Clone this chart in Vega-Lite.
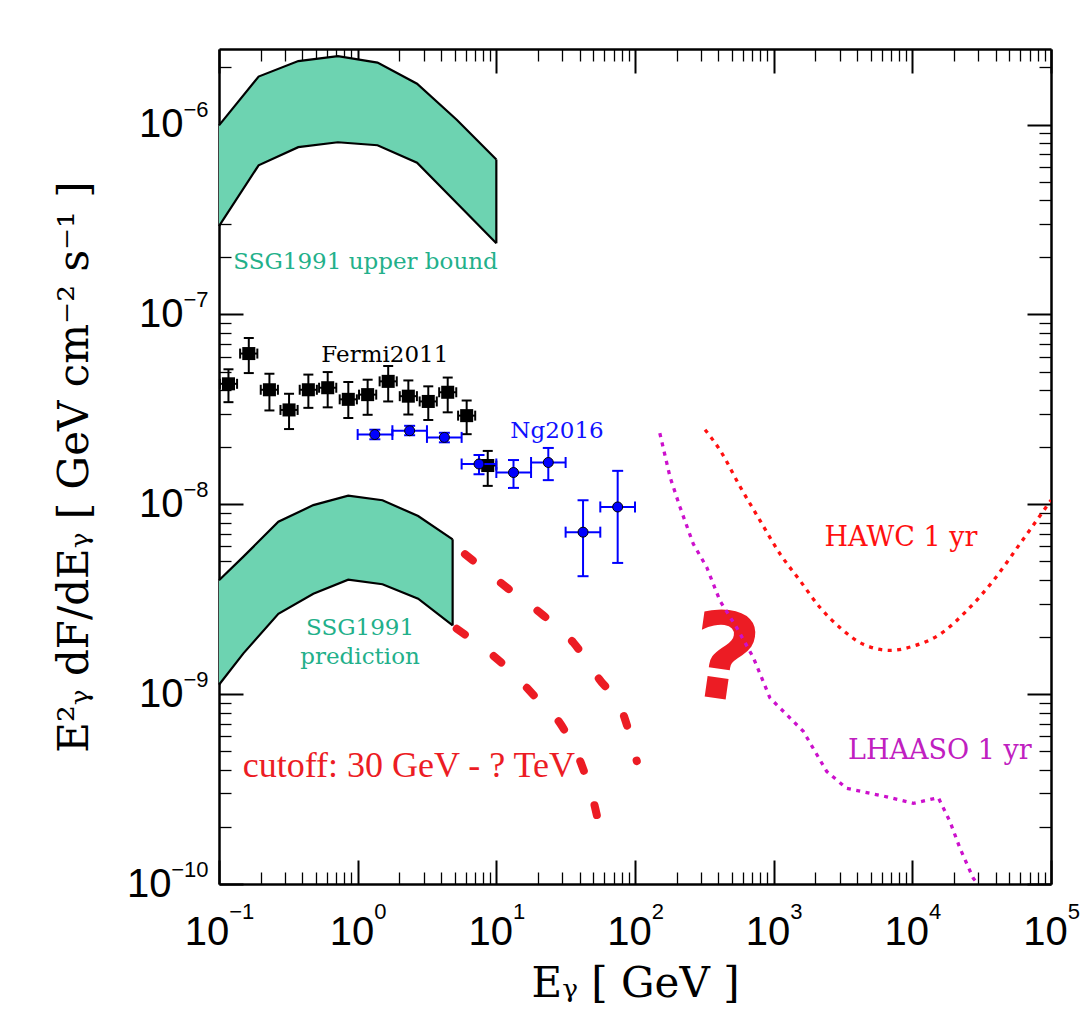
{
  "$schema": "https://vega.github.io/schema/vega-lite/v6.json",
  "width": 832,
  "height": 835,
  "autosize": "none",
  "padding": {"left": 219, "top": 49, "right": 40, "bottom": 144},
  "background": "white",
  "config": {
    "view": {"stroke": null},
    "axis": {
      "grid": false,
      "labelFont": "Liberation Sans",
      "labelFontSize": 40,
      "labelColor": "black",
      "labelOverlap": false,
      "labelFlush": false,
      "labelBound": false,
      "titleFont": "DejaVu Serif",
      "titleFontSize": 42,
      "titleFontWeight": "normal",
      "titleColor": "black",
      "domainColor": "black",
      "tickColor": "black",
      "zindex": 1
    }
  },
  "datasets": {
    "bandU": [
      {"x": 0.1, "hi": 9.9e-7, "lo": 2.92e-7},
      {"x": 0.193, "hi": 1.79e-6, "lo": 6.1e-7},
      {"x": 0.373, "hi": 2.16e-6, "lo": 7.6e-7},
      {"x": 0.72, "hi": 2.29e-6, "lo": 8.07e-7},
      {"x": 1.39, "hi": 2.12e-6, "lo": 7.78e-7},
      {"x": 2.68, "hi": 1.64e-6, "lo": 6.3e-7},
      {"x": 5.18, "hi": 1.06e-6, "lo": 3.86e-7},
      {"x": 10, "hi": 6.55e-7, "lo": 2.37e-7}
    ],
    "bandP": [
      {"x": 0.1, "hi": 3.98e-9, "lo": 1.12e-9},
      {"x": 0.15, "hi": 5.3e-9, "lo": 1.64e-9},
      {"x": 0.268, "hi": 8.09e-9, "lo": 2.65e-9},
      {"x": 0.479, "hi": 9.9e-9, "lo": 3.38e-9},
      {"x": 0.855, "hi": 1.11e-8, "lo": 4.01e-9},
      {"x": 1.51, "hi": 1.05e-8, "lo": 3.79e-9},
      {"x": 2.73, "hi": 8.67e-9, "lo": 3.18e-9},
      {"x": 4.84, "hi": 6.54e-9, "lo": 2.3e-9}
    ],
    "cutoff": [
      {"curve": "A", "x": 5.18, "y": 2.21e-9},
      {"curve": "A", "x": 11.9, "y": 1.38e-9},
      {"curve": "A", "x": 18.8, "y": 9.8e-10},
      {"curve": "A", "x": 29.9, "y": 6.74e-10},
      {"curve": "A", "x": 42.0, "y": 4.09e-10},
      {"curve": "A", "x": 50.6, "y": 2.67e-10},
      {"curve": "A", "x": 55.0, "y": 2.05e-10},
      {"curve": "B", "x": 5.94, "y": 5.46e-9},
      {"curve": "B", "x": 12.2, "y": 3.59e-9},
      {"curve": "B", "x": 21.8, "y": 2.6e-9},
      {"curve": "B", "x": 35.9, "y": 1.87e-9},
      {"curve": "B", "x": 55.2, "y": 1.2e-9},
      {"curve": "B", "x": 81.5, "y": 8.0e-10},
      {"curve": "B", "x": 103, "y": 4.44e-10}
    ],
    "hawc": [
      {"x": 320, "y": 2.47e-8},
      {"x": 410, "y": 1.93e-8},
      {"x": 572, "y": 1.24e-8},
      {"x": 796, "y": 8.23e-9},
      {"x": 1111, "y": 5.48e-9},
      {"x": 1549, "y": 3.96e-9},
      {"x": 2160, "y": 2.86e-9},
      {"x": 3010, "y": 2.24e-9},
      {"x": 4430, "y": 1.83e-9},
      {"x": 6920, "y": 1.7e-9},
      {"x": 10170, "y": 1.79e-9},
      {"x": 15850, "y": 2.07e-9},
      {"x": 24660, "y": 2.75e-9},
      {"x": 38370, "y": 3.96e-9},
      {"x": 59700, "y": 6.19e-9},
      {"x": 100000, "y": 1.05e-8}
    ],
    "lhaaso": [
      {"x": 151, "y": 2.37e-8},
      {"x": 179, "y": 1.39e-8},
      {"x": 211, "y": 9.68e-9},
      {"x": 263, "y": 6.19e-9},
      {"x": 329, "y": 4.66e-9},
      {"x": 410, "y": 3.1e-9},
      {"x": 541, "y": 2.24e-9},
      {"x": 713, "y": 1.56e-9},
      {"x": 940, "y": 9.55e-10},
      {"x": 1636, "y": 6.37e-10},
      {"x": 2410, "y": 3.92e-10},
      {"x": 3360, "y": 3.19e-10},
      {"x": 6530, "y": 2.88e-10},
      {"x": 10160, "y": 2.66e-10},
      {"x": 15390, "y": 2.85e-10},
      {"x": 18700, "y": 2.13e-10},
      {"x": 22080, "y": 1.54e-10},
      {"x": 27540, "y": 1.07e-10},
      {"x": 29730, "y": 1.0e-10}
    ],
    "fermi": [
      {"x": 0.117, "y": 4.31e-8, "ylo": 3.45e-8, "yhi": 5.14e-8, "xlo": 0.1015, "xhi": 0.135},
      {"x": 0.164, "y": 6.22e-8, "ylo": 4.91e-8, "yhi": 7.51e-8, "xlo": 0.142, "xhi": 0.189},
      {"x": 0.231, "y": 4.01e-8, "ylo": 3.12e-8, "yhi": 4.87e-8, "xlo": 0.2, "xhi": 0.266},
      {"x": 0.32, "y": 3.14e-8, "ylo": 2.49e-8, "yhi": 3.82e-8, "xlo": 0.2775, "xhi": 0.369},
      {"x": 0.441, "y": 4.01e-8, "ylo": 3.22e-8, "yhi": 4.82e-8, "xlo": 0.382, "xhi": 0.508},
      {"x": 0.608, "y": 4.11e-8, "ylo": 3.24e-8, "yhi": 4.97e-8, "xlo": 0.527, "xhi": 0.701},
      {"x": 0.856, "y": 3.57e-8, "ylo": 2.85e-8, "yhi": 4.4e-8, "xlo": 0.742, "xhi": 0.987},
      {"x": 1.18, "y": 3.78e-8, "ylo": 2.96e-8, "yhi": 4.53e-8, "xlo": 1.023, "xhi": 1.361},
      {"x": 1.66, "y": 4.44e-8, "ylo": 3.48e-8, "yhi": 5.35e-8, "xlo": 1.44, "xhi": 1.914},
      {"x": 2.32, "y": 3.71e-8, "ylo": 2.97e-8, "yhi": 4.49e-8, "xlo": 2.012, "xhi": 2.675},
      {"x": 3.23, "y": 3.48e-8, "ylo": 2.78e-8, "yhi": 4.18e-8, "xlo": 2.8, "xhi": 3.72},
      {"x": 4.46, "y": 3.89e-8, "ylo": 3.05e-8, "yhi": 4.65e-8, "xlo": 3.87, "xhi": 5.14},
      {"x": 6.11, "y": 2.93e-8, "ylo": 2.34e-8, "yhi": 3.52e-8, "xlo": 5.3, "xhi": 7.04},
      {"x": 8.67, "y": 1.6e-8, "ylo": 1.25e-8, "yhi": 1.91e-8, "xlo": 7.52, "xhi": 10.0}
    ],
    "ng": [
      {"x": 1.33, "y": 2.33e-8, "ylo": 2.2e-8, "yhi": 2.47e-8, "xlo": 1.0, "xhi": 1.78},
      {"x": 2.37, "y": 2.44e-8, "ylo": 2.31e-8, "yhi": 2.59e-8, "xlo": 1.78, "xhi": 3.16},
      {"x": 4.22, "y": 2.25e-8, "ylo": 2.12e-8, "yhi": 2.38e-8, "xlo": 3.16, "xhi": 5.62},
      {"x": 7.5, "y": 1.63e-8, "ylo": 1.44e-8, "yhi": 1.82e-8, "xlo": 5.62, "xhi": 10},
      {"x": 13.3, "y": 1.47e-8, "ylo": 1.22e-8, "yhi": 1.71e-8, "xlo": 10, "xhi": 17.8},
      {"x": 23.7, "y": 1.66e-8, "ylo": 1.34e-8, "yhi": 1.98e-8, "xlo": 17.8, "xhi": 31.6},
      {"x": 42.2, "y": 7.13e-9, "ylo": 4.18e-9, "yhi": 1.05e-8, "xlo": 31.6, "xhi": 56.2},
      {"x": 75, "y": 9.68e-9, "ylo": 4.91e-9, "yhi": 1.5e-8, "xlo": 56.2, "xhi": 100}
    ],
    "labels": [
      {"text": "SSG1991 upper bound", "x": 1.14, "y": 1.88e-7, "kind": "green"},
      {"text": "Fermi2011", "x": 1.57, "y": 6.1e-8, "kind": "black"},
      {"text": "Ng2016", "x": 27.4, "y": 2.44e-8, "kind": "blue"},
      {"text": "SSG1991", "x": 1.04, "y": 2.22e-9, "kind": "green"},
      {"text": "prediction", "x": 1.04, "y": 1.56e-9, "kind": "green"}
    ],
    "detectors": [
      {"text": "HAWC 1 yr", "x": 8280, "y": 6.68e-9, "kind": "red"},
      {"text": "LHAASO 1 yr", "x": 15800, "y": 4.99e-10, "kind": "magenta"}
    ],
    "notes": [
      {"text": "cutoff: 30 GeV - ? TeV", "x": 2.34, "y": 4.18e-10}
    ],
    "qmark": [
      {"text": "?", "x": 438, "y": 1.46e-9}
    ]
  },
  "resolve": {"axis": {"x": "independent", "y": "independent"}},
  "layer": [
    {
      "data": {"name": "bandU"},
      "mark": {"type": "area", "color": "#6dd3b1", "opacity": 1},
      "encoding": {
        "x": {"field": "x", "type": "quantitative", "scale": {"type": "log", "domain": [0.1, 100000], "nice": false},
          "axis": {"orient": "bottom", "values": [0.1, 1, 10, 100, 1000, 10000, 100000], "ticks": false, "labelPadding": 28,
            "labelExpr": "'10'", "labelAlign": "right", "labelBaseline": "top",
            "labelOffset": {"condition": {"test": "datum.value < 0.5", "value": 9.75}, "value": 16.2},
            "domain": true, "domainWidth": 2.5, "title": "Eᵧ  [ GeV ]", "titleBaseline": "alphabetic", "titleY": 112}},
        "y": {"field": "hi", "type": "quantitative", "scale": {"type": "log", "domain": [1e-10, 2.5e-6], "nice": false},
          "axis": {"orient": "left", "values": [1e-10, 1e-9, 1e-8, 1e-7, 1e-6], "ticks": false,
            "labelPadding": {"condition": {"test": "datum.value < 5e-10", "value": 48}, "value": 36},
            "labelExpr": "'10'", "labelAlign": "right", "labelBaseline": "middle",
            "domain": true, "domainWidth": 2.5, "title": "E²ᵧ dF/dEᵧ  [ GeV cm⁻² s⁻¹ ]", "titlePadding": 30}},
        "y2": {"field": "lo"}
      }
    },
    {
      "data": {"name": "bandP"},
      "mark": {"type": "area", "color": "#6dd3b1", "opacity": 1},
      "encoding": {
        "x": {"field": "x", "type": "quantitative", "scale": {"type": "log", "domain": [0.1, 100000], "nice": false},
          "axis": {"orient": "bottom", "values": [0.1, 1, 10, 100, 1000, 10000, 100000], "labels": false, "domain": false, "tickSize": -24, "tickWidth": 2, "title": null}},
        "y": {"field": "hi", "type": "quantitative", "scale": {"type": "log", "domain": [1e-10, 2.5e-6], "nice": false},
          "axis": {"orient": "left", "values": [1e-10, 1e-9, 1e-8, 1e-7, 1e-6], "labels": false, "domain": false, "tickSize": -24, "tickWidth": 2, "title": null}},
        "y2": {"field": "lo"}
      }
    },
    {
      "data": {"name": "bandU"},
      "mark": {"type": "line", "color": "black", "strokeWidth": 2.2},
      "encoding": {
        "x": {"field": "x", "type": "quantitative", "scale": {"type": "log", "domain": [0.1, 100000], "nice": false},
          "axis": {"orient": "bottom", "values": [0.2,0.3,0.4,0.5,0.6,0.7,0.8,0.9,2,3,4,5,6,7,8,9,20,30,40,50,60,70,80,90,200,300,400,500,600,700,800,900,2000,3000,4000,5000,6000,7000,8000,9000,20000,30000,40000,50000,60000,70000,80000,90000], "labels": false, "domain": false, "tickSize": -12, "tickWidth": 1.3, "title": null}},
        "y": {"field": "hi", "type": "quantitative", "scale": {"type": "log", "domain": [1e-10, 2.5e-6], "nice": false},
          "axis": {"orient": "left", "values": [2e-10,3e-10,4e-10,5e-10,6e-10,7e-10,8e-10,9e-10,2e-9,3e-9,4e-9,5e-9,6e-9,7e-9,8e-9,9e-9,2e-8,3e-8,4e-8,5e-8,6e-8,7e-8,8e-8,9e-8,2e-7,3e-7,4e-7,5e-7,6e-7,7e-7,8e-7,9e-7,2e-6], "labels": false, "domain": false, "tickSize": -12, "tickWidth": 1.3, "title": null}}
      }
    },
    {
      "data": {"name": "bandU"},
      "mark": {"type": "line", "color": "black", "strokeWidth": 2.2},
      "encoding": {
        "x": {"field": "x", "type": "quantitative", "scale": {"type": "log", "domain": [0.1, 100000], "nice": false},
          "axis": {"orient": "top", "values": [0.1, 1, 10, 100, 1000, 10000, 100000], "labels": false, "domain": true, "domainWidth": 2.5, "tickSize": -24, "tickWidth": 2, "title": null}},
        "y": {"field": "lo", "type": "quantitative", "scale": {"type": "log", "domain": [1e-10, 2.5e-6], "nice": false},
          "axis": {"orient": "right", "values": [1e-10, 1e-9, 1e-8, 1e-7, 1e-6], "labels": false, "domain": true, "domainWidth": 2.5, "tickSize": -24, "tickWidth": 2, "title": null}}
      }
    },
    {
      "data": {"name": "bandP"},
      "mark": {"type": "line", "color": "black", "strokeWidth": 2.2},
      "encoding": {
        "x": {"field": "x", "type": "quantitative", "scale": {"type": "log", "domain": [0.1, 100000], "nice": false},
          "axis": {"orient": "top", "values": [0.2,0.3,0.4,0.5,0.6,0.7,0.8,0.9,2,3,4,5,6,7,8,9,20,30,40,50,60,70,80,90,200,300,400,500,600,700,800,900,2000,3000,4000,5000,6000,7000,8000,9000,20000,30000,40000,50000,60000,70000,80000,90000], "labels": false, "domain": false, "tickSize": -12, "tickWidth": 1.3, "title": null}},
        "y": {"field": "hi", "type": "quantitative", "scale": {"type": "log", "domain": [1e-10, 2.5e-6], "nice": false},
          "axis": {"orient": "right", "values": [2e-10,3e-10,4e-10,5e-10,6e-10,7e-10,8e-10,9e-10,2e-9,3e-9,4e-9,5e-9,6e-9,7e-9,8e-9,9e-9,2e-8,3e-8,4e-8,5e-8,6e-8,7e-8,8e-8,9e-8,2e-7,3e-7,4e-7,5e-7,6e-7,7e-7,8e-7,9e-7,2e-6], "labels": false, "domain": false, "tickSize": -12, "tickWidth": 1.3, "title": null}}
      }
    },
    {
      "data": {"name": "bandP"},
      "mark": {"type": "line", "color": "black", "strokeWidth": 2.2},
      "encoding": {
        "x": {"field": "x", "type": "quantitative", "scale": {"type": "log", "domain": [0.1, 100000], "nice": false},
          "axis": {"orient": "bottom", "values": [0.1, 1, 10, 100, 1000, 10000, 100000], "ticks": false, "domain": false, "labelPadding": 17,
            "labelExpr": "replace(toString(round(log(datum.value)/LN10)), '-', '−')", "labelFontSize": 22, "labelAlign": "left", "labelBaseline": "top",
            "labelOffset": {"condition": {"test": "datum.value < 0.5", "value": 9.75}, "value": 16.2},
            "title": null}},
        "y": {"field": "lo", "type": "quantitative", "scale": {"type": "log", "domain": [1e-10, 2.5e-6], "nice": false},
          "axis": {"orient": "left", "values": [1e-10, 1e-9, 1e-8, 1e-7, 1e-6], "ticks": false, "domain": false, "labelPadding": 11,
            "labelExpr": "replace(toString(round(log(datum.value)/LN10)), '-', '−')", "labelFontSize": 22, "labelAlign": "right", "labelBaseline": "middle",
            "labelOffset": -15, "title": null}}
      }
    },
    {
      "data": {"name": "bandU"},
      "transform": [{"filter": "datum.x == 10"}],
      "mark": {"type": "rule", "color": "black", "strokeWidth": 2.2},
      "encoding": {
        "x": {"field": "x", "type": "quantitative", "scale": {"type": "log", "domain": [0.1, 100000], "nice": false}, "axis": null},
        "y": {"field": "lo", "type": "quantitative", "scale": {"type": "log", "domain": [1e-10, 2.5e-6], "nice": false}, "axis": null},
        "y2": {"field": "hi"}
      }
    },
    {
      "data": {"name": "bandP"},
      "transform": [{"filter": "datum.x == 4.84"}],
      "mark": {"type": "rule", "color": "black", "strokeWidth": 2.2},
      "encoding": {
        "x": {"field": "x", "type": "quantitative", "scale": {"type": "log", "domain": [0.1, 100000], "nice": false}, "axis": null},
        "y": {"field": "lo", "type": "quantitative", "scale": {"type": "log", "domain": [1e-10, 2.5e-6], "nice": false}, "axis": null},
        "y2": {"field": "hi"}
      }
    },
    {
      "data": {"name": "qmark"},
      "mark": {"type": "text", "font": "DejaVu Sans", "fontSize": 120, "fontWeight": "bold", "color": "#ec1c24", "align": "center", "baseline": "middle", "angle": 8},
      "encoding": {
        "x": {"field": "x", "type": "quantitative", "scale": {"type": "log", "domain": [0.1, 100000], "nice": false}, "axis": null},
        "y": {"field": "y", "type": "quantitative", "scale": {"type": "log", "domain": [1e-10, 2.5e-6], "nice": false}, "axis": null},
        "text": {"field": "text"}
      }
    },
    {
      "data": {"name": "cutoff"},
      "mark": {"type": "line", "color": "#ec1c24", "strokeWidth": 8, "strokeCap": "round", "strokeDash": [10, 36], "interpolate": "monotone"},
      "encoding": {
        "x": {"field": "x", "type": "quantitative", "scale": {"type": "log", "domain": [0.1, 100000], "nice": false}, "axis": null},
        "y": {"field": "y", "type": "quantitative", "scale": {"type": "log", "domain": [1e-10, 2.5e-6], "nice": false}, "axis": null},
        "detail": {"field": "curve"}
      }
    },
    {
      "data": {"name": "hawc"},
      "mark": {"type": "line", "color": "#ff1010", "strokeWidth": 3.3, "strokeDash": [4, 5.5], "interpolate": "monotone", "clip": true},
      "encoding": {
        "x": {"field": "x", "type": "quantitative", "scale": {"type": "log", "domain": [0.1, 100000], "nice": false}, "axis": null},
        "y": {"field": "y", "type": "quantitative", "scale": {"type": "log", "domain": [1e-10, 2.5e-6], "nice": false}, "axis": null}
      }
    },
    {
      "data": {"name": "lhaaso"},
      "mark": {"type": "line", "color": "#cc10cc", "strokeWidth": 3.3, "strokeDash": [4, 5.5], "clip": true},
      "encoding": {
        "x": {"field": "x", "type": "quantitative", "scale": {"type": "log", "domain": [0.1, 100000], "nice": false}, "axis": null},
        "y": {"field": "y", "type": "quantitative", "scale": {"type": "log", "domain": [1e-10, 2.5e-6], "nice": false}, "axis": null}
      }
    },
    {
      "data": {"name": "fermi"},
      "mark": {"type": "rule", "color": "black", "strokeWidth": 2},
      "encoding": {
        "x": {"field": "x", "type": "quantitative", "scale": {"type": "log", "domain": [0.1, 100000], "nice": false}, "axis": null},
        "y": {"field": "ylo", "type": "quantitative", "scale": {"type": "log", "domain": [1e-10, 2.5e-6], "nice": false}, "axis": null},
        "y2": {"field": "yhi"}
      }
    },
    {
      "data": {"name": "fermi"},
      "mark": {"type": "rule", "color": "black", "strokeWidth": 2},
      "encoding": {
        "x": {"field": "xlo", "type": "quantitative", "scale": {"type": "log", "domain": [0.1, 100000], "nice": false}, "axis": null},
        "x2": {"field": "xhi"},
        "y": {"field": "y", "type": "quantitative", "scale": {"type": "log", "domain": [1e-10, 2.5e-6], "nice": false}, "axis": null}
      }
    },
    {
      "data": {"name": "fermi"},
      "mark": {"type": "tick", "orient": "horizontal", "size": 10, "thickness": 2, "color": "black", "opacity": 1},
      "encoding": {
        "x": {"field": "x", "type": "quantitative", "scale": {"type": "log", "domain": [0.1, 100000], "nice": false}, "axis": null},
        "y": {"field": "ylo", "type": "quantitative", "scale": {"type": "log", "domain": [1e-10, 2.5e-6], "nice": false}, "axis": null}
      }
    },
    {
      "data": {"name": "fermi"},
      "mark": {"type": "tick", "orient": "horizontal", "size": 10, "thickness": 2, "color": "black", "opacity": 1},
      "encoding": {
        "x": {"field": "x", "type": "quantitative", "scale": {"type": "log", "domain": [0.1, 100000], "nice": false}, "axis": null},
        "y": {"field": "yhi", "type": "quantitative", "scale": {"type": "log", "domain": [1e-10, 2.5e-6], "nice": false}, "axis": null}
      }
    },
    {
      "data": {"name": "fermi"},
      "mark": {"type": "tick", "orient": "vertical", "size": 10, "thickness": 2, "color": "black", "opacity": 1},
      "encoding": {
        "x": {"field": "xlo", "type": "quantitative", "scale": {"type": "log", "domain": [0.1, 100000], "nice": false}, "axis": null},
        "y": {"field": "y", "type": "quantitative", "scale": {"type": "log", "domain": [1e-10, 2.5e-6], "nice": false}, "axis": null}
      }
    },
    {
      "data": {"name": "fermi"},
      "mark": {"type": "tick", "orient": "vertical", "size": 10, "thickness": 2, "color": "black", "opacity": 1},
      "encoding": {
        "x": {"field": "xhi", "type": "quantitative", "scale": {"type": "log", "domain": [0.1, 100000], "nice": false}, "axis": null},
        "y": {"field": "y", "type": "quantitative", "scale": {"type": "log", "domain": [1e-10, 2.5e-6], "nice": false}, "axis": null}
      }
    },
    {
      "data": {"name": "fermi"},
      "mark": {"type": "point", "shape": "square", "filled": true, "size": 170, "color": "black", "opacity": 1},
      "encoding": {
        "x": {"field": "x", "type": "quantitative", "scale": {"type": "log", "domain": [0.1, 100000], "nice": false}, "axis": null},
        "y": {"field": "y", "type": "quantitative", "scale": {"type": "log", "domain": [1e-10, 2.5e-6], "nice": false}, "axis": null}
      }
    },
    {
      "data": {"name": "ng"},
      "mark": {"type": "rule", "color": "#0000ff", "strokeWidth": 2},
      "encoding": {
        "x": {"field": "x", "type": "quantitative", "scale": {"type": "log", "domain": [0.1, 100000], "nice": false}, "axis": null},
        "y": {"field": "ylo", "type": "quantitative", "scale": {"type": "log", "domain": [1e-10, 2.5e-6], "nice": false}, "axis": null},
        "y2": {"field": "yhi"}
      }
    },
    {
      "data": {"name": "ng"},
      "mark": {"type": "rule", "color": "#0000ff", "strokeWidth": 2},
      "encoding": {
        "x": {"field": "xlo", "type": "quantitative", "scale": {"type": "log", "domain": [0.1, 100000], "nice": false}, "axis": null},
        "x2": {"field": "xhi"},
        "y": {"field": "y", "type": "quantitative", "scale": {"type": "log", "domain": [1e-10, 2.5e-6], "nice": false}, "axis": null}
      }
    },
    {
      "data": {"name": "ng"},
      "mark": {"type": "tick", "orient": "horizontal", "size": 11, "thickness": 2, "color": "#0000ff", "opacity": 1},
      "encoding": {
        "x": {"field": "x", "type": "quantitative", "scale": {"type": "log", "domain": [0.1, 100000], "nice": false}, "axis": null},
        "y": {"field": "ylo", "type": "quantitative", "scale": {"type": "log", "domain": [1e-10, 2.5e-6], "nice": false}, "axis": null}
      }
    },
    {
      "data": {"name": "ng"},
      "mark": {"type": "tick", "orient": "horizontal", "size": 11, "thickness": 2, "color": "#0000ff", "opacity": 1},
      "encoding": {
        "x": {"field": "x", "type": "quantitative", "scale": {"type": "log", "domain": [0.1, 100000], "nice": false}, "axis": null},
        "y": {"field": "yhi", "type": "quantitative", "scale": {"type": "log", "domain": [1e-10, 2.5e-6], "nice": false}, "axis": null}
      }
    },
    {
      "data": {"name": "ng"},
      "mark": {"type": "tick", "orient": "vertical", "size": 11, "thickness": 2, "color": "#0000ff", "opacity": 1},
      "encoding": {
        "x": {"field": "xlo", "type": "quantitative", "scale": {"type": "log", "domain": [0.1, 100000], "nice": false}, "axis": null},
        "y": {"field": "y", "type": "quantitative", "scale": {"type": "log", "domain": [1e-10, 2.5e-6], "nice": false}, "axis": null}
      }
    },
    {
      "data": {"name": "ng"},
      "mark": {"type": "tick", "orient": "vertical", "size": 11, "thickness": 2, "color": "#0000ff", "opacity": 1},
      "encoding": {
        "x": {"field": "xhi", "type": "quantitative", "scale": {"type": "log", "domain": [0.1, 100000], "nice": false}, "axis": null},
        "y": {"field": "y", "type": "quantitative", "scale": {"type": "log", "domain": [1e-10, 2.5e-6], "nice": false}, "axis": null}
      }
    },
    {
      "data": {"name": "ng"},
      "mark": {"type": "point", "shape": "circle", "filled": true, "size": 100, "fill": "#0000ff", "stroke": "black", "strokeWidth": 1, "opacity": 1},
      "encoding": {
        "x": {"field": "x", "type": "quantitative", "scale": {"type": "log", "domain": [0.1, 100000], "nice": false}, "axis": null},
        "y": {"field": "y", "type": "quantitative", "scale": {"type": "log", "domain": [1e-10, 2.5e-6], "nice": false}, "axis": null}
      }
    },
    {
      "data": {"name": "labels"},
      "mark": {"type": "text", "font": "DejaVu Serif", "fontSize": 23, "align": "center", "baseline": "middle"},
      "encoding": {
        "x": {"field": "x", "type": "quantitative", "scale": {"type": "log", "domain": [0.1, 100000], "nice": false}, "axis": null},
        "y": {"field": "y", "type": "quantitative", "scale": {"type": "log", "domain": [1e-10, 2.5e-6], "nice": false}, "axis": null},
        "text": {"field": "text"},
        "color": {"field": "kind", "type": "nominal", "legend": null,
          "scale": {"domain": ["green", "black", "blue", "red", "magenta"], "range": ["#22b08a", "black", "#1010ff", "#ff1010", "#c020c0"]}}
      }
    },
    {
      "data": {"name": "detectors"},
      "mark": {"type": "text", "font": "DejaVu Serif", "fontSize": 27, "align": "center", "baseline": "middle"},
      "encoding": {
        "x": {"field": "x", "type": "quantitative", "scale": {"type": "log", "domain": [0.1, 100000], "nice": false}, "axis": null},
        "y": {"field": "y", "type": "quantitative", "scale": {"type": "log", "domain": [1e-10, 2.5e-6], "nice": false}, "axis": null},
        "text": {"field": "text"},
        "color": {"field": "kind", "type": "nominal", "legend": null,
          "scale": {"domain": ["green", "black", "blue", "red", "magenta"], "range": ["#22b08a", "black", "#1010ff", "#ff1010", "#c020c0"]}}
      }
    },
    {
      "data": {"name": "notes"},
      "mark": {"type": "text", "font": "Liberation Serif", "fontSize": 36, "align": "center", "baseline": "middle", "color": "#ec1c24"},
      "encoding": {
        "x": {"field": "x", "type": "quantitative", "scale": {"type": "log", "domain": [0.1, 100000], "nice": false}, "axis": null},
        "y": {"field": "y", "type": "quantitative", "scale": {"type": "log", "domain": [1e-10, 2.5e-6], "nice": false}, "axis": null},
        "text": {"field": "text"}
      }
    }
  ]
}
